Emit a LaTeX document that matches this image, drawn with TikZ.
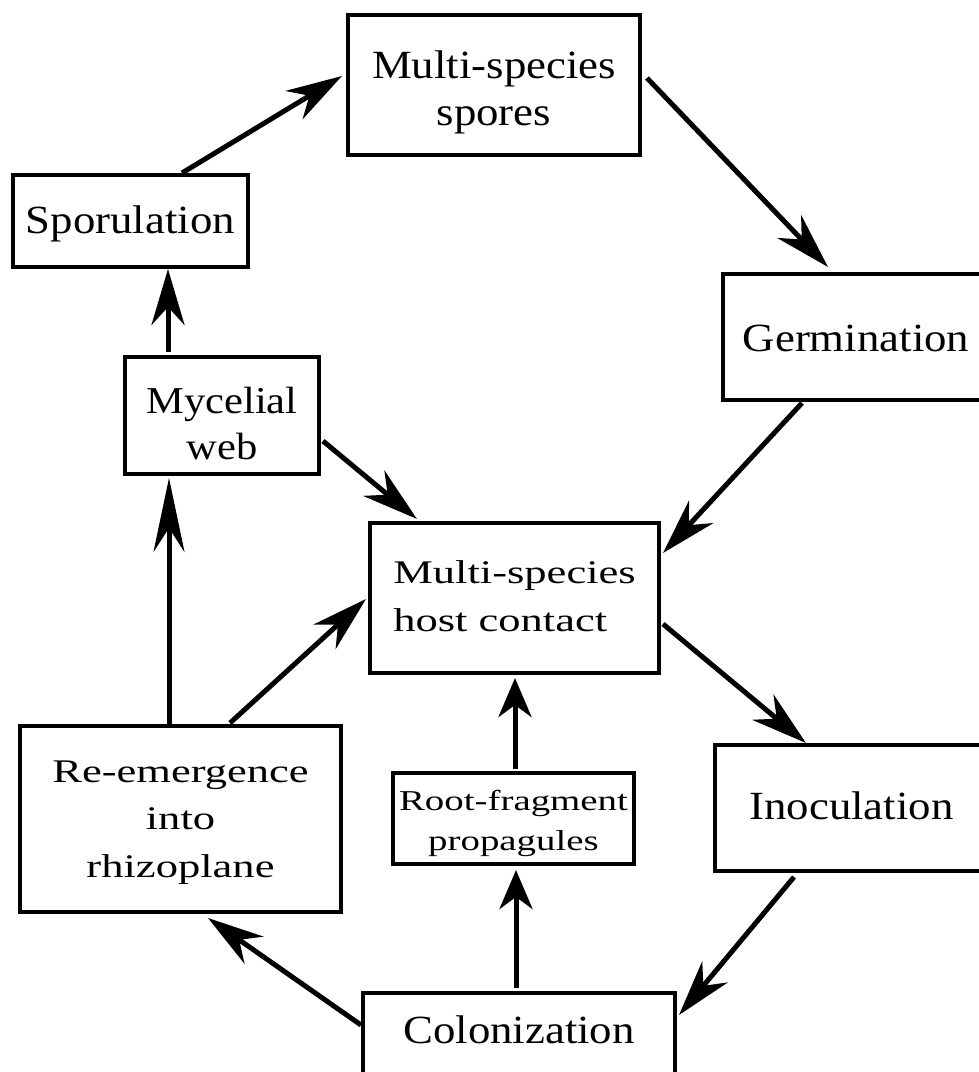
\documentclass[tikz,border=0pt]{standalone}
\usepackage{fontspec}
\setmainfont{Liberation Serif}
\newfontfamily\fa{Liberation Serif}[FakeStretch=1.12]
\newfontfamily\fb{Liberation Serif}[FakeStretch=1.35]
\usetikzlibrary{arrows.meta,calc}
\begin{document}
\begin{tikzpicture}[x=0.5pt,y=-0.5pt,
  box/.style={draw, line width=1.75pt, inner sep=0pt, outer sep=0pt, align=center},
  fonta/.style={font=\fa\fontsize{20pt}{23.5pt}\selectfont},
  arr/.style={line width=2.5pt, -{Stealth[length=28pt,width=16.5pt,inset=9pt]}},
  arrlong/.style={line width=2.5pt, -{Stealth[length=37pt,width=15.5pt,inset=12pt]}},
  arrshort/.style={line width=2.5pt, -{Stealth[length=19.5pt,width=16.5pt,inset=6pt]}}]
\useasboundingbox (0,0) rectangle (979,1072);

\node[box, fonta, minimum width=146pt, minimum height=70pt, text height=45pt, text depth=5pt] (spores) at (494,85) {Multi-species\\spores};
\node[box, fonta, minimum width=117.5pt, minimum height=46pt, text height=15pt, text depth=3pt] (spor) at (130.5,221) {Sporulation};
\node[box, fonta, minimum width=133pt, minimum height=63pt, text height=17pt, text depth=3pt] (germ) at (856,337) {Germination};
\node[box, font=\fa\fontsize{19pt}{23pt}\selectfont, minimum width=97pt, minimum height=58.5pt, text height=47.5pt, text depth=4pt] (myc) at (222,415.5) {Mycelial\\web};
\node[box, align=left, font=\fb\fontsize{16.5pt}{24pt}\selectfont, minimum width=144.5pt, minimum height=75pt, text height=38pt, text depth=5pt] (host) at (514.5,598) {Multi-species\\host contact};
\node[box, font=\fb\fontsize{16.5pt}{23.75pt}\selectfont, minimum width=160.5pt, minimum height=93pt, text height=65pt, text depth=7pt] (re) at (180.5,819) {Re-emergence\\into\\rhizoplane};
\node[box, font=\fb\fontsize{14.4pt}{20pt}\selectfont, minimum width=120.5pt, minimum height=45.5pt, text height=35pt, text depth=3.5pt] (root) at (513.5,818.5) {Root-fragment\\propagules};
\node[box, fonta, minimum width=136.5pt, minimum height=63pt, text height=15pt, text depth=4pt] (inoc) at (851.5,808) {Inoculation};
\node[box, fonta, minimum width=156pt, minimum height=48.5pt, text height=10pt, text depth=8.5pt] (colon) at (519,1041.5) {Colonization};

\draw[arr] ($(spor.north)+(51.5,-2)$) -- ($(spores.west)+(-6,-9)$);
\draw[arr] ($(spores.east)+(7,-7)$) -- ($(germ.north)+(-28,-7)$);
\draw[arr] ($(germ.south)+(-54,3)$) -- ($(host.north east)+(4,30)$);
\draw[arr] ($(myc.east)+(4,25.5)$) -- ($(host.north west)+(47,-4)$);
\draw[arr] ($(myc.north)+(-54,-5)$) -- ($(spor.south)+(37.5,2)$);
\draw[arrlong] ($(re.north)+(-11.5,-2)$) -- ($(myc.south)+(-53,4)$);
\draw[arr] ($(re.north)+(49.5,-3)$) -- ($(host.west)+(-4,1)$);
\draw[arrshort] ($(root.north)+(1.5,-4)$) -- ($(host.south)+(0.5,5)$);
\draw[arrshort] ($(colon.north)+(-3,-5)$) -- ($(root.south)+(2.5,6)$);
\draw[arr] ($(host.east)+(4,26)$) -- ($(inoc.north)+(-45.5,-2)$);
\draw[arr] ($(inoc.south)+(-57.5,6)$) -- ($(colon.north east)+(4,22)$);
\draw[arr] ($(colon.west)+(-2,-16.5)$) -- ($(re.south)+(27.5,6)$);
\end{tikzpicture}
\end{document}
